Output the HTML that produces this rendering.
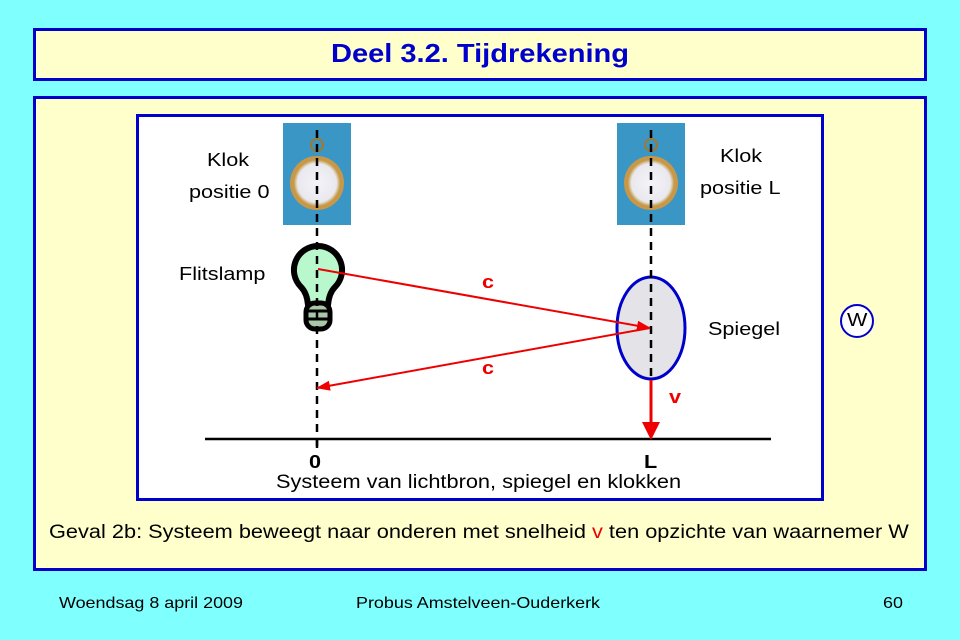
<!DOCTYPE html>
<html><head><style>
body{margin:0;width:960px;height:640px;background:#80ffff;overflow:hidden;position:relative;font-family:"Liberation Sans",sans-serif}
.box{position:absolute;background:#ffffcc;border:3px solid #0000cc;box-sizing:border-box}
.t{position:absolute;white-space:nowrap;transform-origin:0 0}
.s2{transform:scaleX(1.2)}
.s14{transform:scaleX(1.145)}
.s12{transform:scaleX(1.12)}
</style></head><body>
<div class="box" style="left:33px;top:28px;width:894px;height:53px"></div>
<div class="t" style="left:0;width:960px;text-align:center;top:38px;font-size:26px;font-weight:bold;color:#0000cc;transform:scaleX(1.117);transform-origin:480px 0">Deel 3.2. Tijdrekening</div>
<div class="box" style="left:33px;top:96px;width:894px;height:475px"></div>
<div style="position:absolute;left:136px;top:114px;width:688px;height:387px;background:#fff;border:3px solid #0000cc;box-sizing:border-box"></div>
<svg width="960" height="640" style="position:absolute;left:0;top:0">
<defs>
<radialGradient id="cf" cx="50%" cy="50%" r="50%"><stop offset="0" stop-color="#f4f4f8"/><stop offset="0.85" stop-color="#e8e8ee"/><stop offset="1" stop-color="#c8a050"/></radialGradient>
<marker id="ah" markerWidth="14" markerHeight="10" refX="13" refY="5" orient="auto" markerUnits="userSpaceOnUse"><path d="M0,0 L14,5 L0,10 Z" fill="#ee0000"/></marker>
</defs>
<g>
<rect x="283" y="123" width="68" height="102" fill="#3a96c4"/>
<circle cx="317" cy="145" r="6" fill="none" stroke="#a07830" stroke-width="2"/>
<circle cx="317" cy="183" r="27" fill="#c89848"/>
<circle cx="317" cy="183" r="23" fill="url(#cf)"/>
<rect x="617" y="123" width="68" height="102" fill="#3a96c4"/>
<circle cx="651" cy="145" r="6" fill="none" stroke="#a07830" stroke-width="2"/>
<circle cx="651" cy="183" r="27" fill="#c89848"/>
<circle cx="651" cy="183" r="23" fill="url(#cf)"/>
</g>
<path d="M318 246 a24 24 0 0 1 17 41 q-6 6 -7 18 h-20 q-1 -12 -7 -18 a24 24 0 0 1 17 -41z" fill="#b8f8cc" stroke="#000" stroke-width="6"/>
<rect x="306" y="303" width="24" height="26" rx="9" fill="#a8c8a8" stroke="#000" stroke-width="5"/>
<path d="M308 311 h20 M308 319 h20" stroke="#000" stroke-width="3"/>
<ellipse cx="651" cy="328" rx="34" ry="51" fill="#e4e4e8" stroke="#0000cc" stroke-width="3"/>
<line x1="317" y1="130" x2="317" y2="450" stroke="#000" stroke-width="2.5" stroke-dasharray="8,6"/>
<line x1="651" y1="130" x2="651" y2="380" stroke="#000" stroke-width="2.5" stroke-dasharray="8,6"/>
<line x1="205" y1="439" x2="771" y2="439" stroke="#000" stroke-width="2.5"/>
<line x1="317" y1="439" x2="317" y2="448" stroke="#000" stroke-width="2.5"/>
<line x1="318" y1="269" x2="650" y2="328" stroke="#ee0000" stroke-width="2" marker-end="url(#ah)"/>
<line x1="650" y1="328" x2="317" y2="388" stroke="#ee0000" stroke-width="2" marker-end="url(#ah)"/>
<line x1="651" y1="380" x2="651" y2="424" stroke="#ee0000" stroke-width="3"/>
<path d="M642 422 L660 422 L651 440 Z" fill="#ee0000"/>
<circle cx="857" cy="321" r="16" fill="#fff" stroke="#0000cc" stroke-width="2"/>
</svg>
<div class="t s2" style="left:207px;top:150px;font-size:18px">Klok</div>
<div class="t s2" style="left:189px;top:182px;font-size:18px">positie 0</div>
<div class="t s2" style="left:720px;top:146px;font-size:18px">Klok</div>
<div class="t s2" style="left:700px;top:178px;font-size:18px">positie L</div>
<div class="t s2" style="left:179px;top:264px;font-size:18px">Flitslamp</div>
<div class="t s2" style="left:708px;top:319px;font-size:18px">Spiegel</div>
<div class="t s2" style="left:482px;top:272px;font-size:18px;font-weight:bold;color:#ee0000">c</div>
<div class="t s2" style="left:482px;top:358px;font-size:18px;font-weight:bold;color:#ee0000">c</div>
<div class="t s2" style="left:669px;top:387px;font-size:18px;font-weight:bold;color:#ee0000">v</div>
<div class="t s2" style="left:847px;top:310px;font-size:18px">W</div>
<div class="t s2" style="left:309px;top:452px;font-size:18px;font-weight:bold">0</div>
<div class="t s2" style="left:644px;top:452px;font-size:18px;font-weight:bold">L</div>
<div class="t s14" style="left:276px;top:472px;font-size:19px">Systeem van lichtbron, spiegel en klokken</div>
<div class="t s14" style="left:49px;top:522px;font-size:19px">Geval 2b: Systeem beweegt naar onderen met snelheid <span style="color:#ee0000">v</span> ten opzichte van waarnemer W</div>
<div class="t s12" style="left:59px;top:595px;font-size:16px">Woendsag 8 april 2009</div>
<div class="t s12" style="left:356px;top:595px;font-size:16px">Probus Amstelveen-Ouderkerk</div>
<div class="t s12" style="left:883px;top:595px;font-size:16px">60</div>
</body></html>
